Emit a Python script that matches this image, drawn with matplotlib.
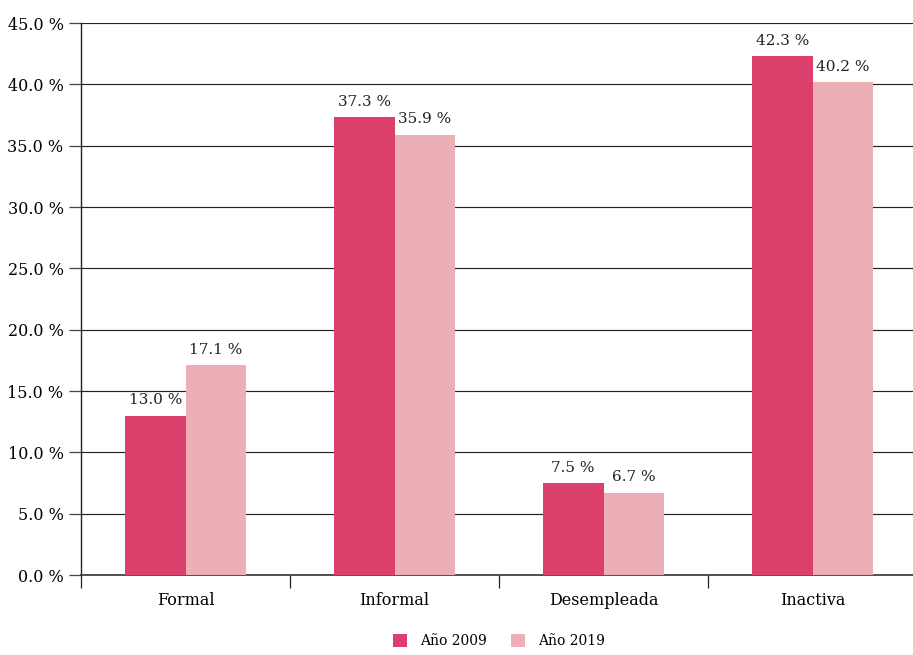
import numpy as np
import matplotlib
matplotlib.use('Agg')
import matplotlib.pyplot as plt
from matplotlib.ticker import FixedLocator, MultipleLocator, FuncFormatter

categories = ['Formal', 'Informal', 'Desempleada', 'Inactiva']
series_names = ['Año 2009', 'Año 2019']
values_2009 = [13.0, 37.3, 7.5, 42.3]
values_2019 = [17.1, 35.9, 6.7, 40.2]

colours = ('#db406c', '#ebafb5')

plt.rcParams['font.family'] = ['DejaVu Serif']
plt.rcParams['font.size'] = 11

fig = plt.figure(figsize=(9.13, 6.55), dpi=100)
ax = fig.add_axes([81 / 913, (655 - 575) / 655, 836 / 913, 552 / 655])

x = np.arange(len(categories))
width = 0.29
b1 = ax.bar(x - width / 2, values_2009, width, color=colours[0], label=series_names[0], zorder=3)
b2 = ax.bar(x + width / 2, values_2019, width, color=colours[1], label=series_names[1], zorder=3)

for bars in (b1, b2):
    for bar in bars:
        h = bar.get_height()
        ax.annotate(f'{h:.1f} %', (bar.get_x() + bar.get_width() / 2, h),
                    xytext=(0, 6), textcoords='offset points',
                    ha='center', va='bottom', fontsize=11, color='#222222')

ax.set_xlim(-0.5, 3.5)
ax.set_ylim(0, 45)
ax.yaxis.set_major_locator(MultipleLocator(5))
ax.yaxis.set_major_formatter(FuncFormatter(lambda v, pos: f'{v:.1f} %'))
ax.grid(axis='y', color='#222222', linewidth=0.85, zorder=0)

# category labels as minor ticks, boundaries as major ticks
ax.xaxis.set_major_locator(FixedLocator([-0.5, 0.5, 1.5, 2.5]))
ax.xaxis.set_major_formatter(plt.NullFormatter())
ax.xaxis.set_minor_locator(FixedLocator(x))
ax.xaxis.set_minor_formatter(FuncFormatter(lambda v, pos: categories[int(round(v))]))
ax.tick_params(axis='x', which='major', length=9.4, width=0.9, color='#222222')
ax.tick_params(axis='x', which='minor', length=0, pad=12, labelsize=11.5)
ax.tick_params(axis='y', length=8.6, width=0.9, color='#444444', labelsize=11.5, pad=4)

for side in ('top', 'right'):
    ax.spines[side].set_visible(False)
ax.spines['left'].set_color('#222222')
ax.spines['left'].set_linewidth(1.0)
ax.spines['bottom'].set_color('#333333')
ax.spines['bottom'].set_linewidth(1.2)

ax.legend(handles=[b1, b2], loc='lower center', bbox_to_anchor=(0.5, -0.155), ncol=2,
          frameon=False, handlelength=1.0, handleheight=1.0, columnspacing=1.8,
          handletextpad=0.9, fontsize=10)

fig.savefig('out.png', dpi=100)
